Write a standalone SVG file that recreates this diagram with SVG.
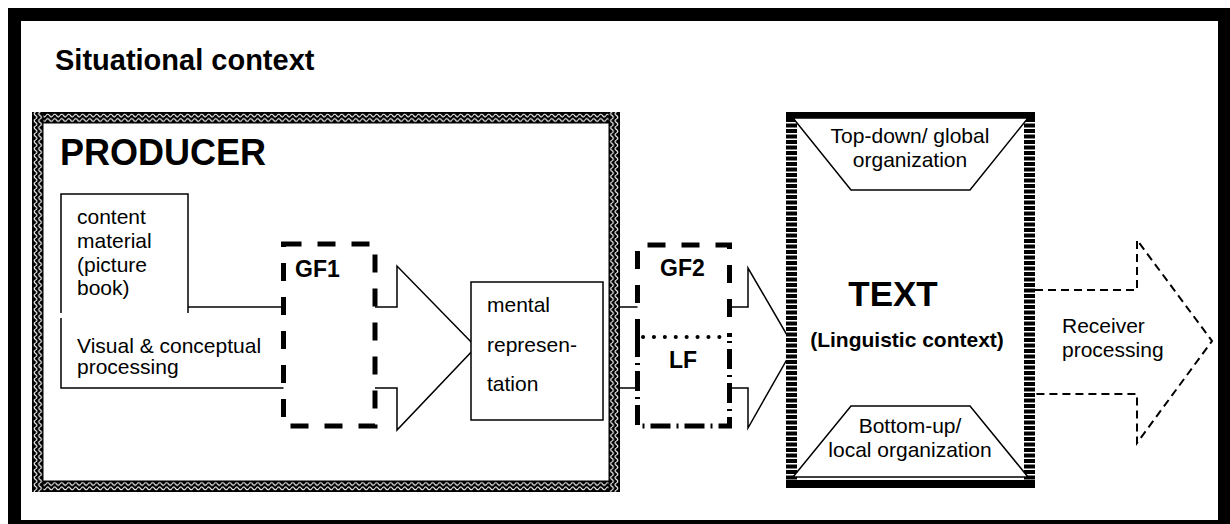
<svg xmlns="http://www.w3.org/2000/svg" width="1230" height="524" viewBox="0 0 1230 524">
<style>
  text { font-family: "Liberation Sans", Arial, sans-serif; fill: #000; }
  .b { font-weight: bold; }
  .n { font-size: 21px; }
  .line { fill: none; stroke: #000; stroke-width: 1.5; }
  .dash5 { fill: none; stroke: #000; stroke-width: 5; stroke-dasharray: 18 16; }
  .dashdot { fill: none; stroke: #000; stroke-width: 5; stroke-dasharray: 20 6 2 6; }
  .dots { fill: none; stroke: #000; stroke-width: 4; stroke-linecap: round; stroke-dasharray: 0.1 10.8; }
  .recv { fill: none; stroke: #000; stroke-width: 2; stroke-dasharray: 8 5; }
  .stripe { fill: none; stroke: #000; stroke-width: 11; stroke-dasharray: 4 1.5; }
  .wv { fill: none; stroke: #fff; stroke-width: 1.1; }
</style>
<defs>
  <pattern id="wavH" patternUnits="userSpaceOnUse" width="7" height="11.5">
    <rect width="7" height="11.5" fill="#000"/>
    <path class="wv" d="M0,3.5 Q1.75,0.8 3.5,3.5 T7,3.5"/>
    <path class="wv" d="M0,8 Q1.75,5.3 3.5,8 T7,8"/>
  </pattern>
  <pattern id="wavV" patternUnits="userSpaceOnUse" width="11.5" height="7">
    <rect width="11.5" height="7" fill="#000"/>
    <path class="wv" d="M3.5,0 Q0.8,1.75 3.5,3.5 T3.5,7"/>
    <path class="wv" d="M8,0 Q5.3,1.75 8,3.5 T8,7"/>
  </pattern>
</defs>

<g id="frame">
  <rect x="8" y="8" width="1240" height="530" fill="#000"/>
  <rect x="21" y="21" width="1197" height="499" fill="#fff"/>
  <text class="b" x="55" y="70" font-size="29">Situational context</text>
</g>

<g id="producer">
  <rect x="32" y="112" width="588" height="380" fill="#fff"/>
  <rect x="0" y="0" width="588" height="11.5" fill="url(#wavH)" transform="translate(32,112)"/>
  <rect x="0" y="0" width="588" height="11.5" fill="url(#wavH)" transform="translate(32,480.5)"/>
  <rect x="0" y="0" width="11.5" height="380" fill="url(#wavV)" transform="translate(32,112)"/>
  <rect x="0" y="0" width="11.5" height="380" fill="url(#wavV)" transform="translate(608.5,112)"/>
  <text class="b" x="60" y="165" font-size="36">PRODUCER</text>
</g>

<g id="connectors">
  <path class="line" d="M188,307 H283.5"/>
  <path class="line" d="M375,307 H397 V266 L476,347 L397,430 V388 H375"/>
  <path class="line" d="M620,307 H637.5 M620,388 H637.5"/>
  <path class="line" d="M729.5,307 H748 V268 L794,347 L748,428 V388 H729.5"/>
  <path class="recv" d="M1035,290 H1137 V240 L1212,341 L1137,443 V394 H1035"/>
</g>

<g id="visual-processing">
  <path class="line" d="M61,318 V388 H283.5"/>
  <text class="n" x="77" y="353">Visual &amp; conceptual</text>
  <text class="n" x="77" y="374">processing</text>
</g>

<g id="content-material">
  <rect x="61" y="194" width="127" height="119" fill="#fff"/>
  <path class="line" d="M61,313 V194 H188 V313"/>
  <text class="n" x="77" y="224">content</text>
  <text class="n" x="77" y="248">material</text>
  <text class="n" x="77" y="272">(picture</text>
  <text class="n" x="77" y="295">book)</text>
</g>

<g id="gf1">
  <rect class="dash5" x="283.5" y="244" width="91.5" height="182"/>
  <text class="b" x="295" y="277" font-size="23">GF1</text>
</g>

<g id="mental-representation">
  <rect x="471" y="282" width="132" height="138" fill="#fff" stroke="#000" stroke-width="1.5"/>
  <text class="n" x="487" y="312">mental</text>
  <text class="n" x="487" y="352">represen-</text>
  <text class="n" x="487" y="391">tation</text>
</g>

<g id="gf2">
  <path class="dash5" d="M637.5,337 V245 H729.5 V337"/>
  <text class="b" x="660" y="276" font-size="23">GF2</text>
</g>

<g id="lf">
  <path class="dashdot" d="M637.5,337 V426 H729.5 V337"/>
  <path class="dots" d="M643,337 H729"/>
  <text class="b" x="669" y="368" font-size="23">LF</text>
</g>

<g id="text-box">
  <rect x="786" y="112" width="249" height="376" fill="#fff"/>
  <rect x="786" y="112" width="249" height="6" fill="#000"/>
  <rect x="786" y="480" width="249" height="8" fill="#000"/>
  <path class="stripe" d="M791.5,118 V480 M1029.5,118 V480"/>
  <text class="b" x="893" y="306" font-size="35" text-anchor="middle">TEXT</text>
  <text class="b" x="907" y="347" font-size="21" text-anchor="middle">(Linguistic context)</text>
</g>

<g id="top-down">
  <polygon points="793,118 1028,118 970,190 851,190" fill="#fff" stroke="#000" stroke-width="1.5"/>
  <text class="n" x="910" y="143" text-anchor="middle" font-size="20">Top-down/ global</text>
  <text class="n" x="910" y="167" text-anchor="middle" font-size="20">organization</text>
</g>

<g id="bottom-up">
  <polygon points="851,406 970,406 1028,477 793,477" fill="#fff" stroke="#000" stroke-width="1.5"/>
  <text class="n" x="910" y="433" text-anchor="middle" font-size="20">Bottom-up/</text>
  <text class="n" x="910" y="457" text-anchor="middle" font-size="20">local organization</text>
</g>

<g id="receiver">
  <text class="n" x="1062" y="333">Receiver</text>
  <text class="n" x="1062" y="357">processing</text>
</g>
</svg>
